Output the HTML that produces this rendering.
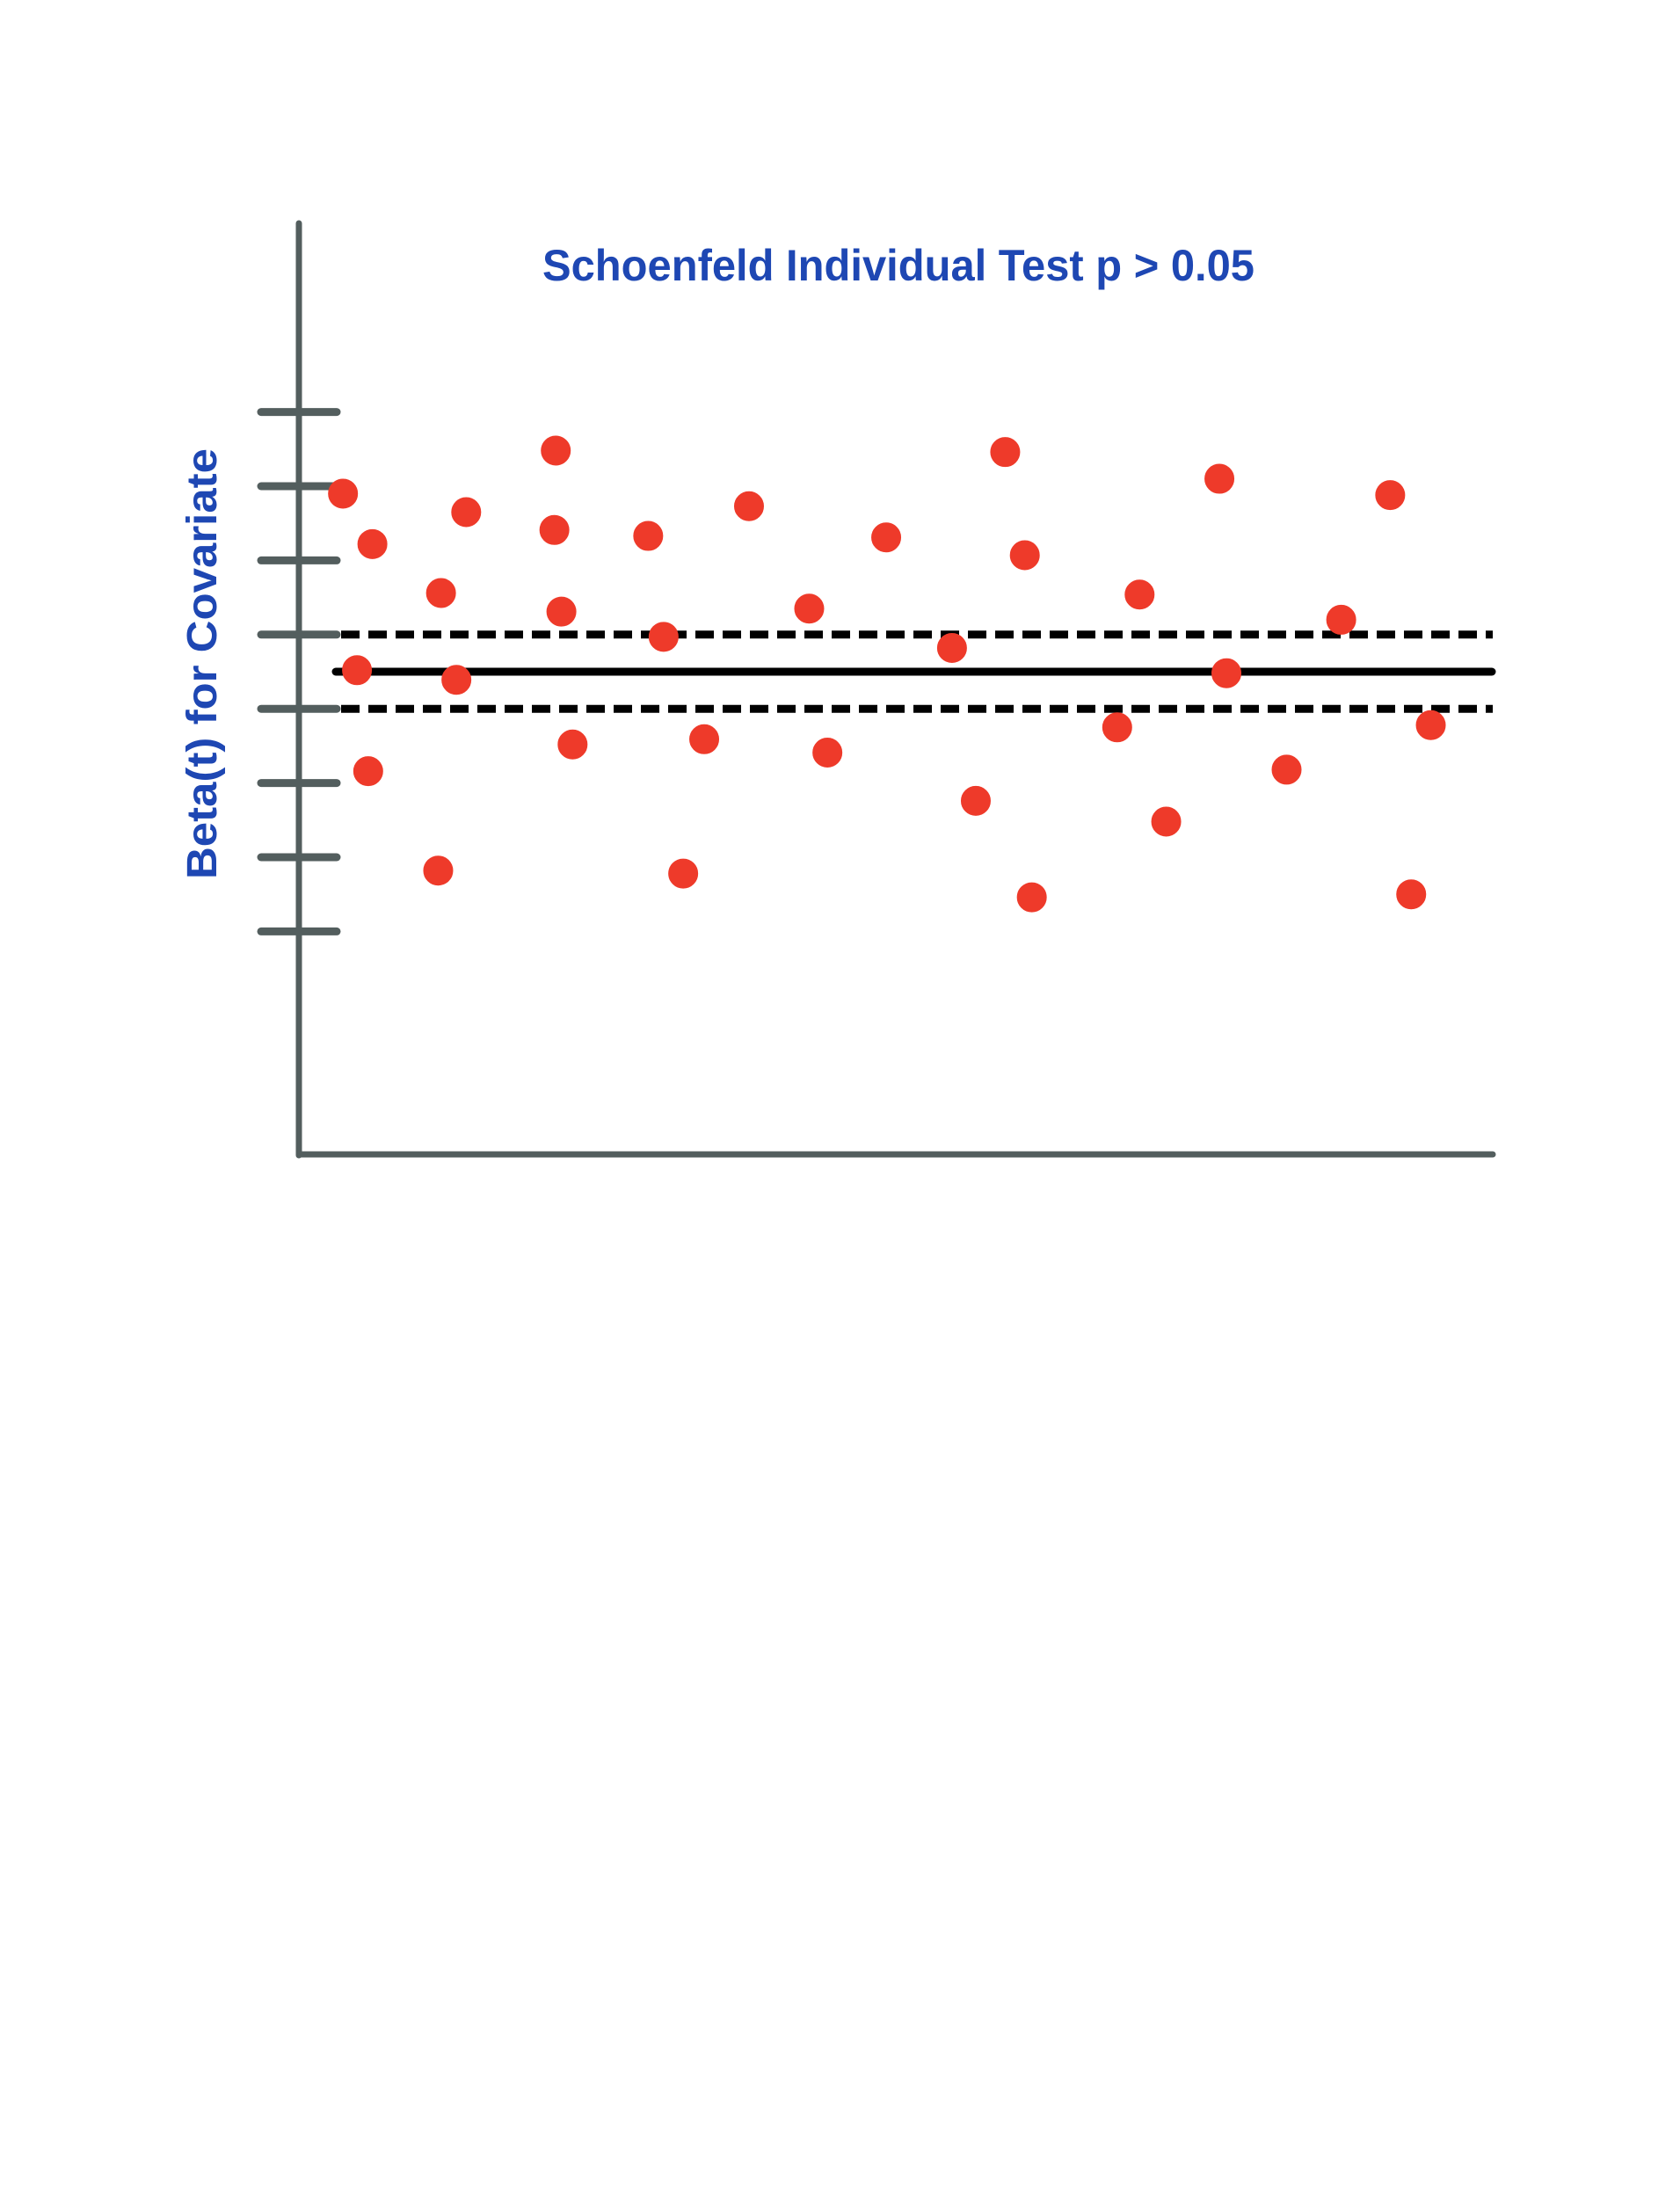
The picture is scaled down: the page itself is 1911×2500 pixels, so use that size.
<!DOCTYPE html>
<html><head><meta charset="utf-8"><style>
html,body{margin:0;padding:0;background:#fff;}
svg{display:block;}
</style></head><body>
<svg width="1911" height="2500" viewBox="0 0 1911 2500" xmlns="http://www.w3.org/2000/svg">
<rect width="1911" height="2500" fill="#fff"/>
<g id="axes"></g>
<g id="lines"></g>
<g id="dots"></g>
<text x="1022" y="319" text-anchor="middle" font-family="'Liberation Sans', sans-serif" font-weight="bold" font-size="50" fill="#1e47b3" textLength="810" lengthAdjust="spacingAndGlyphs">Schoenfeld Individual Test p &gt; 0.05</text>
<text transform="translate(246,755) rotate(-90)" text-anchor="middle" font-family="'Liberation Sans', sans-serif" font-weight="bold" font-size="48" fill="#1e47b3" textLength="490" lengthAdjust="spacingAndGlyphs">Beta(t) for Covariate</text>
</svg>
<script>
const tickValues = [3.5, 2.5, 1.5, 0.5, -0.5, -1.5, -2.5, -3.5];
const fitValue = 0;
const bandValues = [0.5, -0.5];
const timeValues = [245,266,255,263,315,333,326,313,397,396,401,409,463,474,503,488,535,578,591,633,680,697,718,732,737,814,798,833,871,876,919,958,993,1022,1008];
const betaValues = [2.40,1.72,0.02,-1.34,1.06,2.15,-0.11,-2.68,2.98,1.91,0.81,-0.98,1.83,0.47,-0.91,-2.72,2.23,0.85,-1.09,1.81,0.32,-1.74,2.96,1.57,-3.04,1.04,-0.75,-2.02,2.60,-0.02,-1.32,0.70,2.38,-0.72,-3.00];
const NS = 'http://www.w3.org/2000/svg';
function yScale(v){ return 764 - v*84.4; }
function xScale(t){ return t*1.5925; }
function mk(tag, attrs, parent){
  const e = document.createElementNS(NS, tag);
  for (const k in attrs) e.setAttribute(k, attrs[k]);
  parent.appendChild(e); return e;
}
const axes = document.getElementById('axes');
const grey = '#535e5e';
let e = mk('line',{x1:340,y1:254,x2:340,y2:1314,stroke:grey,'stroke-width':7,'stroke-linecap':'round'},axes);


e = mk('line',{x1:340,y1:1313,x2:1698,y2:1313,stroke:grey,'stroke-width':7,'stroke-linecap':'round'},axes);


tickValues.forEach(v=>{
  const t = mk('line',{x1:297,y1:yScale(v),x2:383,y2:yScale(v),stroke:grey,'stroke-width':9,'stroke-linecap':'round'},axes);
  
  
});
const lines = document.getElementById('lines');
bandValues.forEach(v=>{
  const l = mk('line',{x1:388,y1:yScale(v),x2:1698,y2:yScale(v),stroke:'#000','stroke-width':9,'stroke-dasharray':'21 10'},lines);
  
  
});
e = mk('line',{x1:382,y1:yScale(fitValue),x2:1697,y2:yScale(fitValue),stroke:'#000','stroke-width':9,'stroke-linecap':'round'},lines);


const dots = document.getElementById('dots');
timeValues.forEach((t,i)=>{
  const d = mk('ellipse',{cx:xScale(t),cy:yScale(betaValues[i]),rx:16,ry:16,fill:'#ee3a2a',stroke:'#ee3a2a','stroke-width':2},dots);
  
  
});
</script>
</body></html>
